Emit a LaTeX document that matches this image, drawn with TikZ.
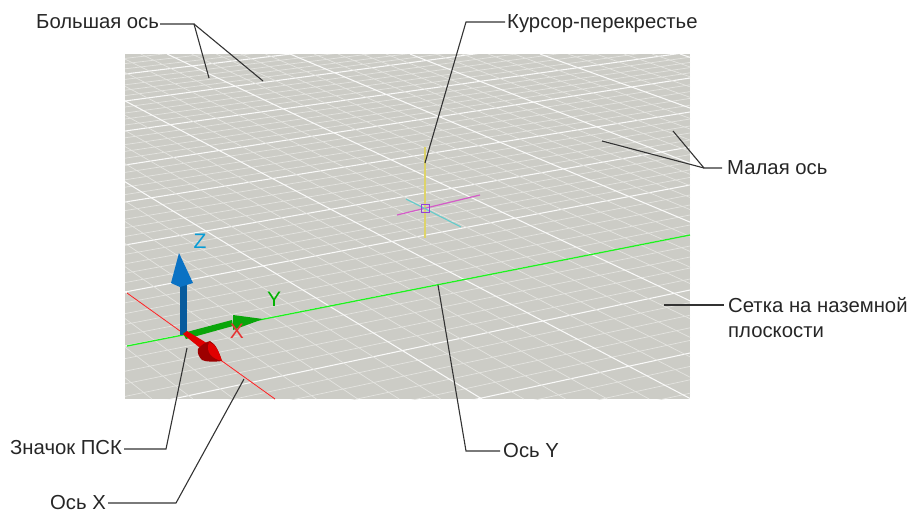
\documentclass[tikz,border=0pt]{standalone}
\usepackage{fontspec}
\setmainfont{Liberation Sans}
\usetikzlibrary{positioning}
\definecolor{plane}{HTML}{CCCCC6}
\definecolor{minorline}{HTML}{E4E4E0}
\definecolor{zblue}{HTML}{0A72C4}
\definecolor{ygreen}{HTML}{0AA50A}
\definecolor{xred}{HTML}{E00000}
\definecolor{yline}{HTML}{20F020}
\definecolor{xline}{HTML}{F03030}
\definecolor{curyellow}{HTML}{DDD36A}
\definecolor{curmagenta}{HTML}{D45CC8}
\definecolor{curcyan}{HTML}{62CCCC}
\tikzset{
  lbl/.style={inner sep=0pt,font=\fontsize{20.3}{25}\selectfont,text=black!85},
  lead/.style={line width=1.1pt,black!80},
  major/.style={white!90!plane,line width=1.05pt},
  minor/.style={minorline,line width=0.7pt},
  axislbl/.style={inner sep=0pt,font=\fontsize{21}{21}\selectfont}
}
\begin{document}
\begin{tikzpicture}[x=1pt,y=-1pt]
\useasboundingbox (0,0) rectangle (912,512);
\fill[plane] (125,54) rectangle (690,399);
\begin{scope}
\clip (125,54) rectangle (690,399);
% lines running up to the right
\foreach \la/\ra/\lb/\rb in {48/-15/74/6,74/6/101/25,101/25/131/52,131/52/165/78,165/78/202/112,202/112/245/147,245/147/292/185,292/185/346/235,346/235/409/290,409/290/475/353,475/353/545/420}{
  \foreach \i in {1,2,3,4}{
    \draw[minor] (125,{\la+(\lb-\la)*\i/5})--(690,{\ra+(\rb-\ra)*\i/5});
  }
  \draw[major] (125,\lb)--(690,\rb);
}
% lines running down to the right
\foreach \ta/\ba/\tb/\bb in {-480/-135/-340/70,-340/70/-207/275,-207/275/-85/482,-85/482/36/691,36/691/167/898,167/898/290/1111,290/1111/410/1295,410/1295/540/1498,540/1498/680/1710}{
  \foreach \i in {1,2,3,4}{
    \draw[minor] ({\ta+(\tb-\ta)*\i/5},54)--({\ba+(\bb-\ba)*\i/5},399);
  }
  \draw[major] (\tb,54)--(\bb,399);
}
\end{scope}
% axes on the plane
\draw[yline,line width=1.3pt] (127,346)--(690,235);
\draw[xline,line width=1pt] (127,293)--(275,399);
% cursor
\draw[curyellow,line width=1.2pt] (425,147)--(425,238);
\draw[curmagenta,line width=1.2pt] (397,215)--(480,195);
\draw[curcyan,line width=1.1pt] (406,199)--(461,227);
\draw[curmagenta!70!blue,line width=1pt] (421,204) rectangle (429,212);
% ucs icon
\fill[zblue!80!black] (180,335) rectangle (187,285);
\fill[zblue] (179,253)--(171,283)--(180,287)--(193,283)--cycle;
\fill[ygreen] (183,333)--(232,320)--(233,326)--(186,339)--cycle;
\fill[ygreen] (233,315)--(263,319)--(233,330)--cycle;
\fill[xred] (183,334)--(187,331)--(210,345)--(205,352)--cycle;
\fill[xred!70!black] (210,341) .. controls (216,344) and (219,352) .. (222,361) .. controls (214,362) and (206,362) .. (202,360) .. controls (199,357) and (197,353) .. (198,349) .. controls (201,345) and (206,342) .. (210,341)--cycle;
\fill[xred] (209,342) .. controls (216,344) and (219,352) .. (222,361) .. controls (213,359) and (205,353) .. (209,342)--cycle;
\node[axislbl,text=zblue!70!cyan] (zlbl) at (200,241) {Z};
\node[axislbl,text=green!70!black] (ylbl) at (274,299) {Y};
\node[axislbl,text=xred!80!white] (xlbl) at (237,331) {X};
% labels and leaders
\node[lbl,anchor=base west] (majorlbl) at (36,28) {Большая ось};
\node[lbl,anchor=base west] (cursorlbl) at (507,28) {Курсор-перекрестье};
\node[lbl,anchor=base west] (minorlbl) at (727,174) {Малая ось};
\node[lbl,anchor=base west] (gridlbl) at (728,312) {Сетка на наземной};
\node[lbl,anchor=base west] (gridlblb) at (728,337) {плоскости};
\node[lbl,anchor=base west] (yaxislbl) at (503,457) {Ось Y};
\node[lbl,anchor=base west] (ucslbl) at (10,454) {Значок ПСК};
\node[lbl,anchor=base west] (xaxislbl) at (50,509) {Ось X};
\coordinate (majorfork) at (194,24);
\coordinate (majora) at (209,78);
\coordinate (majorb) at (263,81);
\coordinate (cursorbend) at (466,22);
\coordinate (cursorend) at (425,163);
\coordinate (minorfork) at (704,168);
\coordinate (minora) at (673,131);
\coordinate (minorb) at (602,141);
\coordinate (gridend) at (664,305);
\coordinate (ybend) at (466,451);
\coordinate (yend) at (438,285);
\coordinate (ucsbend) at (166,449);
\coordinate (ucsend) at (187,348);
\coordinate (xbend) at (176,503);
\coordinate (xend) at (244,379);
\draw[lead,shorten <=1pt] (majorlbl.east|-majorfork)--(majorfork)--(majora);
\draw[lead] (majorfork)--(majorb);
\draw[lead,shorten <=2pt] (cursorlbl.west|-cursorbend)--(cursorbend)--(cursorend);
\draw[lead,shorten <=5pt] (minorlbl.west|-minorfork)--(minorfork)--(minora);
\draw[lead] (minorfork)--(minorb);
\draw[lead,shorten >=4pt] (gridend)--(gridend-|gridlbl.west);
\draw[lead,shorten <=3pt] (yaxislbl.west|-ybend)--(ybend)--(yend);
\draw[lead,shorten <=2pt] (ucslbl.east|-ucsbend)--(ucsbend)--(ucsend);
\draw[lead,shorten <=2pt] (xaxislbl.east|-xbend)--(xbend)--(xend);
\end{tikzpicture}
\end{document}
